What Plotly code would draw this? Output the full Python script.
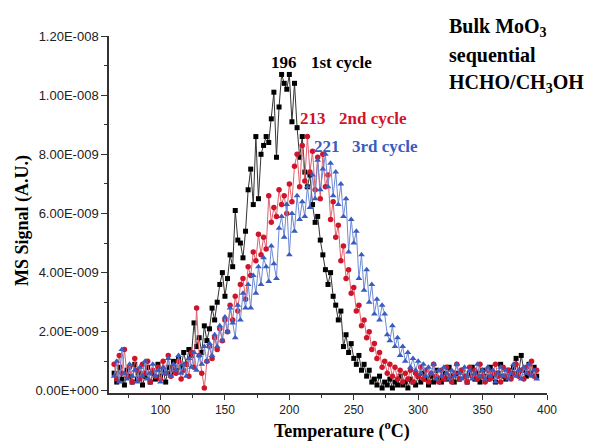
import plotly.graph_objects as go

# Temperature grid (°C) shared by the three TPD cycles
temperature = [
    64, 66, 68, 70, 72, 74, 76, 78, 80, 82, 84, 86, 88, 90, 92, 94, 96, 98, 100, 102,
    104, 106, 108, 110, 112, 114, 116, 118, 120, 122, 124, 126, 128, 130, 132, 134, 136, 138, 140, 142,
    144, 146, 148, 150, 152, 154, 156, 158, 160, 162, 164, 166, 168, 170, 172, 174, 176, 178, 180, 182,
    184, 186, 188, 190, 192, 194, 196, 198, 200, 202, 204, 206, 208, 210, 212, 214, 216, 218, 220, 222,
    224, 226, 228, 230, 232, 234, 236, 238, 240, 242, 244, 246, 248, 250, 252, 254, 256, 258, 260, 262,
    264, 266, 268, 270, 272, 274, 276, 278, 280, 282, 284, 286, 288, 290, 292, 294, 296, 298, 300, 302,
    304, 306, 308, 310, 312, 314, 316, 318, 320, 322, 324, 326, 328, 330, 332, 334, 336, 338, 340, 342,
    344, 346, 348, 350, 352, 354, 356, 358, 360, 362, 364, 366, 368, 370, 372, 374, 376, 378, 380, 382,
    384, 386, 388, 390, 392,
]

# MS signal, in units of 1e-9 A.U.
cycle1 = [
    0.6, 0.3, 0.8, 0.4, 0.2, 0.7, 0.5, 0.3, 0.9, 0.4, 0.6, 0.2, 0.5, 0.8, 0.3, 0.6, 0.4, 0.9, 0.5, 0.7,
    0.3, 0.8, 0.6, 1.0, 0.7, 1.1, 0.8, 1.3, 0.9, 1.4, 1.2, 2.3, 1.5, 1.8, 1.3, 2.2, 1.7, 2.1, 2.8, 2.4,
    3.0, 3.6, 4.0, 3.2, 3.8, 4.6, 4.2, 6.1, 5.1, 5.0, 4.5, 5.4, 6.8, 7.5, 6.3, 8.6, 6.5, 8.0, 8.3, 8.6,
    8.4, 9.2, 10.1, 7.9, 9.6, 10.7, 10.4, 10.2, 10.7, 9.1, 10.4, 8.9, 7.9, 8.6, 7.4, 6.9, 7.3, 6.3, 5.7, 5.9,
    5.1, 4.6, 4.1, 3.6, 4.0, 3.2, 2.9, 2.4, 2.7, 1.5, 1.9, 1.3, 1.6, 1.1, 0.9, 1.2, 0.7, 0.9, 0.5, 0.7,
    0.3, 0.4, 0.2, 0.5, 0.1, 0.3, 0.2, 0.4, 0.1, 0.3, 0.2, 0.5, 0.2, 0.3, 0.1, 0.4, 0.3, 0.2, 0.5, 0.3,
    0.6, 0.4, 0.2, 0.5, 0.3, 0.7, 0.4, 0.3, 0.6, 0.4, 0.8, 0.5, 0.3, 0.6, 0.4, 0.7, 0.5, 0.3, 0.6, 0.8,
    0.4, 0.6, 0.3, 0.7, 0.5, 0.4, 0.8, 0.5, 0.3, 0.6, 0.9, 0.5, 0.4, 0.7, 0.5, 0.8, 1.1, 0.6, 1.2, 0.7,
    0.5, 0.9, 0.6, 0.8, 0.5,
]

cycle2 = [
    0.9, 0.4, 1.2, 0.6, 1.4, 0.5, 0.8, 0.3, 1.1, 0.7, 0.4, 0.9, 0.6, 1.0, 0.3, 0.7, 0.5, 0.8, 0.4, 1.0,
    0.6, 1.2, 0.5, 0.8, 0.6, 1.0, 0.4, 0.7, 0.9, 0.5, 1.3, 0.8, 2.8, 1.2, 0.6, 0.1, 1.0, 1.5, 1.1, 1.8,
    1.4, 2.1, 1.7, 2.4, 2.0, 2.9, 2.4, 3.2, 2.7, 3.6, 3.8, 3.1, 4.2, 3.9, 4.7, 4.4, 5.3, 4.6, 5.2, 4.8,
    6.6, 5.7, 6.2, 5.9, 6.8, 6.3, 6.6, 6.0, 7.0, 6.4, 7.6, 8.0, 6.9, 8.3, 7.1, 8.6, 7.4, 8.1, 6.8, 7.9,
    6.5, 8.0, 6.9, 7.3, 5.8, 6.4, 5.2, 5.6, 4.4, 4.9, 3.8, 4.1, 3.3, 3.5, 2.7, 2.9, 2.2, 2.4, 1.8, 2.0,
    1.4, 1.6, 1.1, 1.3, 0.8, 1.0, 0.6, 0.9, 0.5, 0.8, 0.4, 0.7, 0.3, 0.6, 0.4, 0.7, 0.3, 0.6, 0.5, 0.8,
    0.4, 0.7, 0.3, 0.6, 0.9, 0.5, 0.3, 0.7, 0.4, 0.8, 0.5, 0.3, 0.6, 0.9, 0.4, 0.7, 0.5, 0.3, 0.8, 0.5,
    0.7, 0.4, 0.9, 0.5, 0.3, 0.7, 0.4, 0.6, 0.9, 0.5, 0.3, 0.8, 0.5, 0.7, 0.4, 0.6, 0.9, 0.5, 0.7, 0.4,
    0.8, 0.6, 1.0, 0.5, 0.7,
]

cycle3 = [
    0.5, 1.0, 0.3, 1.4, 0.6, 0.4, 0.9, 0.5, 0.7, 0.3, 0.8, 0.5, 1.0, 0.4, 0.6, 0.9, 0.5, 0.7, 0.3, 0.8,
    0.6, 1.1, 0.5, 0.9, 0.7, 1.2, 0.6, 0.9, 0.5, 1.1, 0.8, 1.3, 0.7, 1.2, 0.9, 1.5, 1.0, 1.6, 1.2, 1.9,
    1.5, 2.2, 1.7, 2.5, 2.0, 2.8, 2.3, 1.8, 2.9, 2.4, 3.3, 2.8, 3.6, 2.8, 3.9, 3.3, 4.2, 3.6, 4.5, 4.2,
    3.7, 4.9, 4.3, 3.8, 5.5, 5.9, 5.2, 6.3, 4.6, 6.0, 5.4, 6.6, 5.8, 6.4, 5.9, 6.9, 6.2, 7.3, 6.5, 7.8,
    6.8, 7.5, 8.0, 6.9, 7.7, 6.6, 7.4, 6.3, 7.0, 5.9, 6.5, 4.7, 5.8, 5.0, 5.4, 3.8, 4.6, 3.4, 4.1, 3.0,
    3.6, 2.6, 3.1, 2.4, 2.9, 2.6, 1.9, 1.7, 2.2, 1.5, 1.8, 1.2, 1.5, 1.0, 1.3, 0.8, 1.1, 0.7, 1.0, 0.6,
    0.9, 0.5, 0.8, 0.6, 0.9, 0.4, 0.7, 0.5, 0.8, 0.6, 0.4, 0.7, 0.5, 0.9, 0.6, 0.4, 0.8, 0.5, 0.7, 0.4,
    0.6, 0.9, 0.5, 0.7, 0.4, 0.8, 0.5, 0.7, 0.3, 0.6, 0.8, 0.5, 0.7, 0.4, 0.6, 0.9, 0.5, 0.7, 0.4, 0.8,
    0.6, 0.9, 0.5, 0.7, 0.4,
]

series_names = ["1st cycle", "2nd cycle", "3rd cycle"]
peak_temps = [196, 213, 221]

y_tickvals = [0, 2e-9, 4e-9, 6e-9, 8e-9, 1.0e-8, 1.2e-8]
y_ticktext = ["0.00E+000", "2.00E-009", "4.00E-009", "6.00E-009",
              "8.00E-009", "1.00E-008", "1.20E-008"]

SERIF = "Liberation Serif, Times New Roman, serif"
SANS = "Liberation Sans, Arial, sans-serif"

styles = [
    dict(marker=dict(symbol="square", size=5, color="#000000"),
         line=dict(color="#333333", width=1)),
    dict(marker=dict(symbol="circle", size=5.5, color="#d0142c"),
         line=dict(color="#e2606c", width=1)),
    dict(marker=dict(symbol="triangle-up", size=6, color="#3a5bbf"),
         line=dict(color="#6f8bd6", width=1)),
]

fig = go.Figure()
for name, vals, st in zip(series_names, [cycle1, cycle2, cycle3], styles):
    fig.add_trace(go.Scatter(
        x=temperature,
        y=[v * 1e-9 for v in vals],
        mode="lines+markers",
        name=name,
        marker=st["marker"],
        line=st["line"],
        showlegend=False,
        cliponaxis=False,
    ))

# peak temperature and cycle labels
label_colors = ["#000000", "#d0142c", "#3a5bbf"]
num_pos = [(196, 11.12e-9), (218, 9.2e-9), (229.6, 8.28e-9)]
name_pos = [(240.4, 11.12e-9), (265, 9.2e-9), (274.3, 8.28e-9)]
for t, col, (nx, ny), (lx, ly), nm in zip(peak_temps, label_colors, num_pos, name_pos, series_names):
    fig.add_annotation(x=nx, y=ny, xref="x", yref="y", text=f"<b>{t}</b>",
                       showarrow=False, xanchor="center", yanchor="middle",
                       font=dict(family=SERIF, size=17, color=col))
    fig.add_annotation(x=lx, y=ly, xref="x", yref="y", text=f"<b>{nm}</b>",
                       showarrow=False, xanchor="center", yanchor="middle",
                       font=dict(family=SERIF, size=17, color=col))

# sample description, top right (paper coordinates so it may sit above the axes)
desc_lines = ["Bulk MoO<sub>3</sub>", "sequential", "HCHO/CH<sub>3</sub>OH"]
desc_y = [1.025, 0.945, 0.868]
for txt, yy in zip(desc_lines, desc_y):
    fig.add_annotation(x=0.772, y=yy, xref="paper", yref="paper", text=f"<b>{txt}</b>",
                       showarrow=False, xanchor="left", yanchor="middle",
                       font=dict(family=SERIF, size=20, color="#000000"))

# axis titles
fig.add_annotation(x=-0.196, y=0.482, xref="paper", yref="paper",
                   text="<b>MS Signal (A.U.)</b>", textangle=-90, showarrow=False,
                   xanchor="center", yanchor="middle",
                   font=dict(family=SERIF, size=18, color="#000000"))
fig.add_annotation(x=0.532, y=-0.104, xref="paper", yref="paper",
                   text="<b>Temperature (<sup>o</sup>C)</b>", showarrow=False,
                   xanchor="center", yanchor="middle",
                   font=dict(family=SERIF, size=18, color="#000000"))

fig.update_xaxes(
    range=[60, 400], showline=True, linecolor="#333333", linewidth=1.5,
    showgrid=False, zeroline=False,
    tickmode="linear", tick0=100, dtick=50,
    ticks="outside", ticklen=5, tickwidth=1.2, tickcolor="#333333",
    minor=dict(ticks="outside", ticklen=3, tickwidth=1.2, tickcolor="#333333",
               tick0=75, dtick=50),
    tickfont=dict(family=SANS, size=12, color="#222222"),
)
fig.update_yaxes(
    range=[-0.07e-9, 1.2e-8], showline=True, linecolor="#333333", linewidth=1.5,
    showgrid=False, zeroline=False,
    tickmode="array", tickvals=y_tickvals, ticktext=y_ticktext,
    ticks="outside", ticklen=6, tickwidth=1.2, tickcolor="#333333",
    minor=dict(ticks="outside", ticklen=3, tickwidth=1.2, tickcolor="#333333",
               tick0=1e-9, dtick=2e-9),
    tickfont=dict(family=SANS, size=13, color="#222222"),
)

fig.update_layout(
    width=590, height=441,
    margin=dict(l=109, r=43, t=36, b=48),
    paper_bgcolor="white", plot_bgcolor="white",
)

fig.write_html("out.html")
